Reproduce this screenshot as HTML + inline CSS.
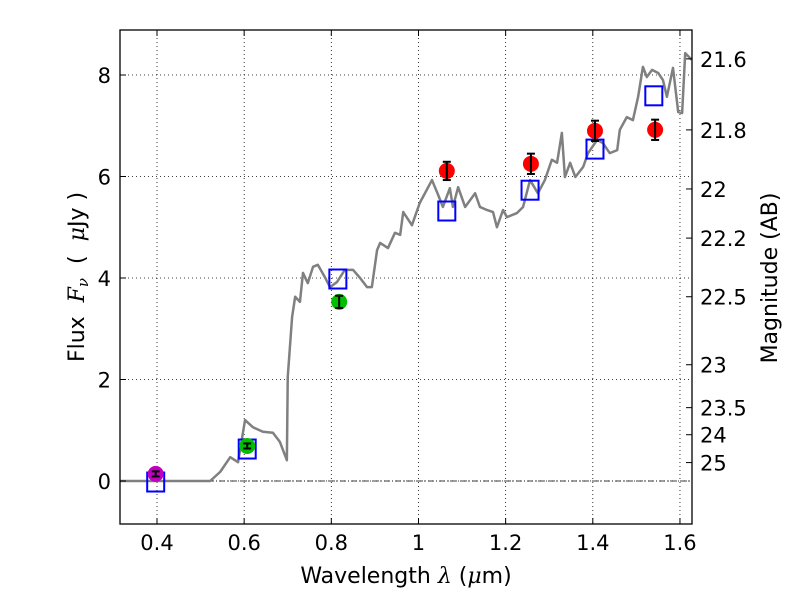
<!DOCTYPE html>
<html><head><meta charset="utf-8"><style>
body{margin:0;background:#fff}
svg text{font-family:"DejaVu Sans","Liberation Sans",sans-serif;fill:#000}
</style></head><body>
<svg id="chart" width="800" height="600" viewBox="0 0 800 600" xmlns="http://www.w3.org/2000/svg">
<rect width="800" height="600" fill="#fff"/>
<g id="grid"></g>
<g id="marks"></g>
<rect x="120" y="30" width="572" height="494" fill="none" stroke="#000" stroke-width="1.3"/>
<g id="axes"></g>
<text x="406" y="583" font-size="22" text-anchor="middle">Wavelength  <tspan font-family="DejaVu Serif" font-style="italic">λ</tspan> (<tspan font-family="DejaVu Serif" font-style="italic">μ</tspan>m)</text>
<text transform="translate(84,277) rotate(-90)" font-size="22" text-anchor="middle" xml:space="preserve">Flux  <tspan font-family="DejaVu Serif" font-style="italic">F<tspan font-size="15" dy="4">ν</tspan></tspan><tspan dy="-4">  </tspan>(  <tspan font-family="DejaVu Serif" font-style="italic">μ</tspan>Jy )</text>
<text transform="translate(777,278) rotate(-90)" font-size="22" text-anchor="middle">Magnitude (AB)</text>
</svg>
<script>
const specLam=[0.315,0.522,0.545,0.568,0.586,0.602,0.62,0.643,0.666,0.682,0.698,0.70,0.71,0.717,0.728,0.735,0.746,0.758,0.769,0.785,0.797,0.813,0.831,0.85,0.866,0.882,0.893,0.905,0.912,0.93,0.946,0.958,0.965,0.985,1.003,1.031,1.045,1.056,1.072,1.079,1.091,1.107,1.13,1.141,1.157,1.171,1.18,1.194,1.203,1.226,1.24,1.256,1.274,1.29,1.306,1.318,1.329,1.336,1.348,1.36,1.378,1.389,1.41,1.423,1.439,1.456,1.462,1.478,1.492,1.504,1.515,1.524,1.536,1.55,1.561,1.57,1.584,1.596,1.605,1.612,1.627];
const specFlux=[0,0,0.18,0.47,0.37,1.2,1.06,0.97,0.95,0.77,0.41,2.05,3.23,3.63,3.53,4.1,3.9,4.22,4.26,4.02,3.82,3.92,4.16,4.16,4.0,3.82,3.82,4.55,4.69,4.59,4.89,4.85,5.3,5.04,5.48,5.93,5.64,5.4,5.77,5.4,5.79,5.4,5.67,5.4,5.34,5.3,5.0,5.34,5.2,5.28,5.4,5.93,5.67,5.93,6.33,6.27,6.86,5.99,6.27,5.99,6.19,6.46,6.72,6.66,6.46,6.52,6.92,7.17,7.11,7.57,8.16,7.96,8.1,8.04,7.9,7.57,8.14,7.27,7.25,8.43,8.3];
const modelLam=[0.397,0.607,0.815,1.065,1.256,1.405,1.54];
const modelFlux=[-0.02,0.63,3.98,5.32,5.73,6.54,7.59];
const magLam=[0.397];const magFlux=[0.14];const magErr=[0.05];
const greenLam=[0.607,0.818];const greenFlux=[0.69,3.53];const greenErr=[0.05,0.12];
const redLam=[1.065,1.258,1.405,1.543];const redFlux=[6.11,6.25,6.9,6.92];const redErr=[0.18,0.2,0.2,0.2];
const xTicks=[0.4,0.6,0.8,1.0,1.2,1.4,1.6];const xTickLabels=["0.4","0.6","0.8","1","1.2","1.4","1.6"];
const yTicks=[0,2,4,6,8];
const magTicks=[21.6,21.8,22,22.2,22.5,23,23.5,24,25];const magTickLabels=["21.6","21.8","22","22.2","22.5","23","23.5","24","25"];
const X=l=>157+(l-0.4)*435.8, Y=f=>481-f*50.75;
const NS="http://www.w3.org/2000/svg";
function mk(t,a,p){const e=document.createElementNS(NS,t);for(const k in a)e.setAttribute(k,a[k]);p.appendChild(e);return e;}
const grid=document.getElementById('grid'),marks=document.getElementById('marks'),axes=document.getElementById('axes');
xTicks.forEach((v,i)=>{const x=X(v);
 const g=mk('line',{x1:x,x2:x,y1:30,y2:524,stroke:'#000','stroke-width':0.8,'stroke-dasharray':'1,3'},grid);
 
 mk('line',{x1:x,x2:x,y1:524,y2:518,stroke:'#000'},axes);mk('line',{x1:x,x2:x,y1:30,y2:36,stroke:'#000'},axes);
 const t=mk('text',{x:x,y:550,'font-size':21,'text-anchor':'middle'},axes);t.textContent=xTickLabels[i];
 });
yTicks.forEach(v=>{const y=Y(v);
 const g=mk('line',{x1:120,x2:692,y1:y,y2:y,stroke:'#000','stroke-width':0.8,'stroke-dasharray':'1,3'},grid);
 
 mk('line',{x1:120,x2:126,y1:y,y2:y,stroke:'#000'},axes);
 const t=mk('text',{x:111,y:y+8,'font-size':21,'text-anchor':'end'},axes);t.textContent=String(v);
 });
magTicks.forEach((m,i)=>{const y=Y(Math.pow(10,(23.9-m)/2.5));
 mk('line',{x1:692,x2:686,y1:y,y2:y,stroke:'#000'},axes);
 const t=mk('text',{x:700,y:y+8,'font-size':21},axes);t.textContent=magTickLabels[i];
 });
const zl=mk('line',{x1:120,x2:692,y1:Y(0),y2:Y(0),stroke:'#000','stroke-width':0.8,'stroke-dasharray':'6,2,1,2'},marks);

const sp=mk('polyline',{points:specLam.map((l,i)=>X(l)+','+Y(specFlux[i])).join(' '),fill:'none',stroke:'#808080','stroke-width':2.5,'stroke-linejoin':'round'},marks);

function pts(L,F,E,col,name){L.forEach((l,i)=>{const x=X(l),y=Y(F[i]);
 const c=mk('circle',{cx:x,cy:y,r:8,fill:col},marks);
 const y1=Y(F[i]+E[i]),y2=Y(F[i]-E[i]);
 mk('line',{x1:x,x2:x,y1:y1,y2:y2,stroke:'#000','stroke-width':2},marks);
 mk('line',{x1:x-4,x2:x+4,y1:y1,y2:y1,stroke:'#000','stroke-width':2},marks);
 mk('line',{x1:x-4,x2:x+4,y1:y2,y2:y2,stroke:'#000','stroke-width':2},marks);});}
modelLam.forEach((l,i)=>{const s=mk('rect',{x:X(l)-8.5,y:Y(modelFlux[i])-9.5,width:17,height:19,fill:'none',stroke:'#0000ff','stroke-width':2},marks);
 });
pts(magLam,magFlux,magErr,'#bf00bf','magenta-point');
pts(greenLam,greenFlux,greenErr,'#00bf00','green-point');
pts(redLam,redFlux,redErr,'#ff0000','red-point');
</script>
</body></html>
